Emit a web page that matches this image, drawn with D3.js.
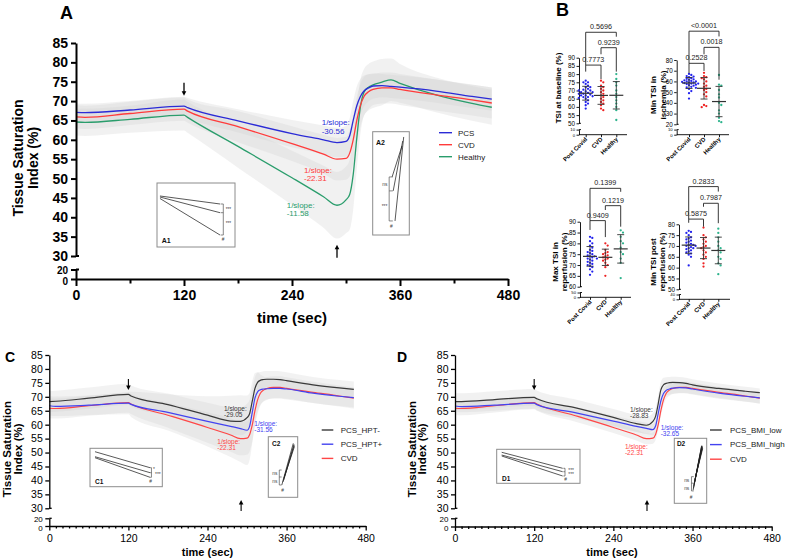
<!DOCTYPE html>
<html><head><meta charset="utf-8">
<script src="https://cdn.jsdelivr.net/npm/d3@7"></script>
<style>body{margin:0;background:#fff}svg{display:block}</style>
</head><body>
<svg id="c" width="788" height="559"></svg>
<script>
// ---------------- DATA ----------------
const timeGrid = [0,10,60,120,124,180,240,275,290,300,304,308,312,316,320,325,330,340,350,360,400,440,462];
// Panel A means
const pcsA     = [67.1,67.0,67.7,68.7,68.3,64.9,61.6,60.0,59.3,59.6,61.0,65.0,68.8,71.2,72.6,73.4,73.9,74.0,73.8,73.6,72.6,71.2,70.5];
const cvd      = [65.9,65.8,66.8,67.9,67.4,63.4,59.0,56.3,55.0,55.2,56.5,60.0,65.0,68.9,71.2,72.4,73.0,73.4,73.4,73.0,71.6,70.3,69.5];
const healthyA = [64.6,64.5,65.3,66.4,65.8,58.3,50.2,45.3,43.1,44.5,45.8,51.0,60.5,68.5,72.3,73.6,74.2,74.9,75.5,74.6,71.6,69.4,68.4];
const sdPcsA     = [2.3,2.3,2.3,2.4,2.5,3.0,3.5,3.7,3.8,4.0,4.5,5.0,5.0,4.5,4.0,3.5,3.3,3.0,3.0,3.0,3.0,3.0,3.0];
const sdCvdA     = [3.0,3.0,3.0,3.0,3.0,4.0,4.5,5.0,5.5,5.5,6.0,6.0,6.0,5.5,5.0,4.5,4.0,4.0,4.0,4.0,4.0,4.0,4.0];
const sdHealthyA = [3.5,3.5,3.5,4.0,4.0,5.5,7.0,8.0,8.6,8.6,9.0,9.0,8.0,7.0,6.0,6.0,6.0,6.0,5.5,5.0,4.5,4.5,4.5];
// Panel C means
const hptNeg = [68.3,68.4,69.5,70.9,70.3,67.2,63.4,61.3,61.2,62.5,64.0,68.5,73.0,75.2,75.9,76.2,76.3,76.3,76.2,75.8,74.3,73.2,72.7];
const hptPos = [66.8,66.6,67.0,67.7,67.3,64.4,61.2,59.4,58.6,58.0,59.5,64.5,69.5,71.8,72.5,72.8,72.9,73.0,73.0,72.8,71.3,70.2,69.7];
const sdHptNeg = [3.8,3.8,3.8,3.8,3.8,4.0,4.5,5.0,5.0,5.0,5.0,4.5,4.0,3.5,3.0,3.0,3.0,3.0,3.0,3.0,2.8,2.8,2.8];
const sdHptPos = [3.5,3.5,3.5,4.0,4.5,6.5,9.0,11.0,12.0,12.5,12.0,11.0,9.0,7.0,5.5,4.5,4.0,3.5,3.5,3.5,3.5,3.5,3.5];
const sdCvdC   = [3.6,3.6,3.6,3.6,3.6,4.5,5.5,6.0,6.0,6.0,6.0,6.0,5.5,5.0,4.5,4.0,4.0,4.0,4.0,4.0,3.8,3.8,3.8];
// Panel D means
const bmiLow  = [68.3,68.3,69.0,69.8,69.3,66.2,62.6,60.4,59.8,61.2,63.0,67.5,72.5,74.3,74.8,75.1,75.2,75.1,74.8,74.3,73.0,72.0,71.5];
const bmiHigh = [66.7,66.5,67.0,67.7,67.2,64.4,61.3,59.4,58.7,58.2,59.5,64.0,68.5,71.2,72.3,72.8,73.1,73.3,73.2,72.8,71.3,70.2,69.6];
const sdBmiLow  = [3.0,3.0,3.0,3.0,3.0,3.0,3.0,3.0,3.0,3.0,3.0,3.0,2.8,2.5,2.2,2.0,2.0,2.0,2.0,2.0,1.8,1.6,1.5];
const sdBmiHigh = [2.0,2.0,2.0,2.0,2.0,2.0,2.0,2.0,2.0,2.0,2.0,2.0,2.0,2.0,2.0,2.0,2.0,2.0,2.0,2.0,2.0,2.0,2.0];
const sdCvdD    = [2.4,2.4,2.4,2.4,2.4,2.2,2.0,2.0,2.0,2.0,2.0,2.0,2.0,2.0,2.0,2.0,2.0,2.0,2.0,2.0,2.0,2.0,2.0];

const yTicksMain = [30,35,40,45,50,55,60,65,70,75,80,85];
const yTicksLow  = [0,20];
const xTicksMain = [0,120,240,360,480];

// Panel B
const groups = ["Post Covid","CVD","Healthy"];
const baselinePost = [76,75,75,74,73,72,72,71,70.5,70,70,69.5,69,69,68.5,68,68,67.5,67,67,66.5,66,66,65.5,65,64,63,62,61,59];
const baselineCvd = [76,75,73,72,71,70,69,68,67,66,65,64,63,62,61,59,58];
const baselineHealthy = [80,77,75,73,70,68,66,64,62,60,58,52];
const ischemiaPost = [67,66,65,64.5,64,63,62.5,62,61.5,61,60.5,60,60,59.5,59,59,58.5,58,58,57.5,57,56.5,56,55,54.5,54,53,51,49,44];
const ischemiaCvd = [68,65,64,63,62,60,58,56,55,53,52,50,48,46,38,37,36];
const ischemiaHealthy = [66,57,56,52,48,45,40,38,33,30,26,23,22];
const maxRepPost = [83,82.5,81,80,79,78,77,76.5,76,75.5,75,74.5,74,74,73.5,73,73,72.5,72,71.5,71,70.5,70,69.5,69,68,67,65.5];
const maxRepCvd = [80,79,77,76,75.5,75,74.5,74,73.5,73,72.5,72,71,70,69,65];
const maxRepHealthy = [86,85,83,81,80,78,76,75,73,71,64];
const minPostPost = [77,76.5,76,75,74,73.5,73,72.5,72,71.5,71,70.5,70.5,70,70,69.5,69,69,68.5,68,67.5,67,66.5,66,65,61];
const minPostCvd = [78.5,75,74,73,72,71,70,69.5,69,68,67,66,65,64,62,60.5];
const minPostHealthy = [78,76,74,72,70,69,68,67,65,64,62,61,57];
const pBaseline = ["0.7773","0.9239","0.5696"];
const pIschemia = ["0.2528","0.0018","<0.0001"];
const pMaxRep = ["0.9409","0.1219","0.1399"];
const pMinPost = ["0.5875","0.7987","0.2833"];

// ---------------- DRAW ----------------
const FONT = "'Liberation Sans', Arial, Helvetica, sans-serif";
const svg = d3.select("#c").style("font-family", FONT);

function styleAxis(sel, sw, fs, fw) {
  sel.attr("font-family", FONT);
  sel.select(".domain").attr("stroke", "#000").attr("stroke-width", sw);
  sel.selectAll(".tick line").attr("stroke", "#000").attr("stroke-width", sw);
  sel.selectAll(".tick text").attr("fill", "#000").attr("font-size", fs).attr("font-weight", fw);
}
// nudge the two labels of a short broken-axis segment (positive = down)
function spreadLow(sel, topShift, zeroShift) {
  sel.selectAll(".tick text").attr("y", d => d === 0 ? zeroShift : topShift);
}

function arrow(g, x, yTip, len, dir, sw) {
  const yTail = yTip - dir * len;
  g.append("line").attr("x1", x).attr("x2", x).attr("y1", yTail).attr("y2", yTip - dir * 3)
    .attr("stroke", "#000").attr("stroke-width", sw);
  g.append("path").attr("d", `M${x - 2.3},${yTip - dir * 4.5}L${x + 2.3},${yTip - dir * 4.5}L${x},${yTip}Z`).attr("fill", "#000");
}

function drawInset(s) {
  const [bx, by, bw, bh] = s.box;
  const ix = d3.scaleLinear([0, 1], [bx, bx + bw]), iy = d3.scaleLinear([0, 1], [by, by + bh]);
  const g = svg.append("g");
  g.append("rect").attr("x", bx).attr("y", by).attr("width", bw).attr("height", bh)
    .attr("fill", "#fff").attr("stroke", "#8c8c8c").attr("stroke-width", 1);
  s.lines.forEach(l => g.append("line").attr("x1", ix(l[0])).attr("y1", iy(l[1])).attr("x2", ix(l[2])).attr("y2", iy(l[3]))
    .attr("stroke", "#222").attr("stroke-width", 0.75));
  const bxp = ix(s.bracket.x);
  g.append("line").attr("x1", bxp).attr("x2", bxp).attr("y1", iy(d3.min(s.bracket.ys))).attr("y2", iy(d3.max(s.bracket.ys)))
    .attr("stroke", "#555").attr("stroke-width", 0.7);
  s.bracket.ys.forEach(y => g.append("line").attr("x1", bxp).attr("x2", ix(s.bracket.x + s.bracket.tick)).attr("y1", iy(y)).attr("y2", iy(y))
    .attr("stroke", "#555").attr("stroke-width", 0.7));
  s.labels.forEach(l => g.append("text").attr("x", ix(l[1])).attr("y", iy(l[2])).attr("text-anchor", l[3] || "start")
    .attr("font-size", 4.8).attr("fill", "#444").text(l[0]));
  g.append("text").attr("x", ix(s.name[1])).attr("y", iy(s.name[2])).attr("font-size", s.nameSize)
    .attr("font-weight", "bold").attr("fill", "#111").text(s.name[0]);
}

function timePanel(p) {
  const x = d3.scaleLinear([0, 480], p.xr);
  const yU = d3.scaleLinear([30, 85], p.yur);
  const yL = d3.scaleLinear([0, 20], p.ylr);
  const g = svg.append("g");
  const bands = g.append("g");
  p.series.forEach(s => {
    bands.append("path").datum(s.v).attr("fill", "#cfcfcf").attr("fill-opacity", p.bandOp)
      .attr("d", d3.area().x((d, i) => x(timeGrid[i])).y0((d, i) => yU(d - s.sd[i])).y1((d, i) => yU(d + s.sd[i])).curve(d3.curveMonotoneX));
  });
  const lines = g.append("g");
  p.series.slice().reverse().forEach(s => {
    lines.append("path").datum(s.v).attr("fill", "none").attr("stroke", s.color).attr("stroke-width", p.lw)
      .attr("d", d3.line().x((d, i) => x(timeGrid[i])).y(d => yU(d)).curve(d3.curveMonotoneX));
  });
  const x0 = p.xr[0];
  const ya = g.append("g").attr("transform", `translate(${x0},0)`)
    .call(d3.axisLeft(yU).tickValues(yTicksMain).tickSize(p.tl).tickPadding(p.tp).tickSizeOuter(0));
  styleAxis(ya, p.sw, p.yfs, p.fw);
  const yb = g.append("g").attr("transform", `translate(${x0},0)`)
    .call(d3.axisLeft(yL).tickValues(yTicksLow).tickSize(p.tl).tickPadding(p.tp).tickSizeOuter(0));
  styleAxis(yb, p.sw, p.lowFs, p.fw);
  spreadLow(yb, p.lowTop, p.lowZero);
  [yU(30), yL(20)].forEach(yy => g.append("line").attr("x1", x0).attr("x2", x0 + p.tl * 0.6).attr("y1", yy).attr("y2", yy)
    .attr("stroke", "#000").attr("stroke-width", p.sw));
  const xa = g.append("g").attr("transform", `translate(0,${yL(0)})`)
    .call(d3.axisBottom(x).tickValues(xTicksMain).tickSize(p.xtl).tickPadding(p.xtp).tickSizeOuter(0));
  styleAxis(xa, p.sw, p.xfs, p.fw);
  const xm = g.append("g").attr("transform", `translate(0,${yL(0)})`)
    .call(d3.axisBottom(x).tickValues(p.minor).tickSize(p.xmtl).tickFormat("").tickSizeOuter(0));
  styleAxis(xm, p.sw, p.xfs, p.fw);
  xm.select(".domain").remove();
  const yt = g.append("g").attr("font-weight", "bold").attr("font-size", p.ytfs).attr("text-anchor", "middle");
  p.yTitle.forEach((t, i) => yt.append("text").attr("transform", `translate(${p.ytX[i]},${p.ytY}) rotate(-90)`).text(t));
  g.append("text").attr("x", p.xtX).attr("y", p.xtY).attr("text-anchor", "middle").attr("font-weight", "bold")
    .attr("font-size", p.xtfs).text("time (sec)");
  g.append("text").attr("x", p.letter[1]).attr("y", p.letter[2]).attr("font-weight", "bold").attr("font-size", p.letter[3]).text(p.letter[0]);
  p.slopes.forEach(s => {
    const t = g.append("text").attr("x", x(s.t)).attr("y", yU(s.v)).attr("fill", s.color).attr("font-size", p.sfs);
    t.append("tspan").attr("x", x(s.t)).text("1/slope:");
    t.append("tspan").attr("x", x(s.t)).attr("dy", p.sdy).text(s.val);
  });
  arrow(g, x(p.arrDown[0]), yU(p.arrDown[1]), p.arrLen, 1, p.arrW);
  arrow(g, x(p.arrUp[0]), yU(p.arrUp[1]), p.arrLen, -1, p.arrW);
  p.series.forEach((s, i) => {
    const ly = p.leg.y + i * p.leg.dy;
    g.append("line").attr("x1", p.leg.x).attr("x2", p.leg.x + p.leg.len).attr("y1", ly).attr("y2", ly)
      .attr("stroke", s.color).attr("stroke-width", 1.4);
    g.append("text").attr("x", p.leg.tx).attr("y", ly).attr("dy", "0.35em").attr("font-size", p.leg.fs).attr("fill", "#222").text(s.name);
  });
  p.insets.forEach(drawInset);
}

const cBlueA = "#2b2bd6", cRedA = "#ff3b3b", cGreenA = "#2a9d6c";
const cGrey = "#3a3a3a", cBlue = "#4343f0", cRed = "#ff4646";

// Panel A
timePanel({
  xr: [76, 508], yur: [256, 43], ylr: [279, 269.5],
  series: [
    {name: "PCS", v: pcsA, sd: sdPcsA, color: cBlueA},
    {name: "CVD", v: cvd, sd: sdCvdA, color: cRedA},
    {name: "Healthy", v: healthyA, sd: sdHealthyA, color: cGreenA}],
  bandOp: 0.3, lw: 1.3, sw: 2, tl: 5, tp: 3, yfs: 14, xfs: 14, fw: "bold",
  lowFs: 10, lowTop: 0.3, lowZero: 1.9,
  xtl: 7, xtp: 4, xmtl: 4.5, minor: [60, 180, 300, 420],
  yTitle: ["Tissue Saturation", "Index (%)"], ytX: [22.5, 37.5], ytY: 158, ytfs: 14,
  xtX: 292, xtY: 323, xtfs: 15, letter: ["A", 60, 18.5, 18],
  slopes: [
    {t: 273, v: 63.7, val: "-30.56", color: cBlueA},
    {t: 253.3, v: 51.5, val: "-22.31", color: cRedA},
    {t: 234.1, v: 42.5, val: "-11.58", color: cGreenA}],
  sfs: 8, sdy: 8.5,
  arrDown: [120, 71.4], arrUp: [290, 32.9], arrLen: 13, arrW: 1.3,
  leg: {x: 439, len: 13, tx: 458, y: 132.7, dy: 12, fs: 8},
  insets: [
    {box: [157, 183, 78, 64], name: ["A1", 0.06, 0.94], nameSize: 7,
     lines: [[0.038, 0.203, 0.808, 0.328], [0.038, 0.219, 0.808, 0.464], [0.038, 0.242, 0.808, 0.8125]],
     bracket: {x: 0.85, tick: -0.035, ys: [0.328, 0.464, 0.8125]},
     labels: [["***", 0.88, 0.43], ["***", 0.88, 0.66], ["#", 0.83, 0.9]]},
    {box: [372.7, 131.7, 36.6, 103.3], name: ["A2", 0.09, 0.13], nameSize: 7,
     lines: [[0.53, 0.438, 0.8, 0.138], [0.56, 0.573, 0.82, 0.09], [0.61, 0.864, 0.847, 0.051]],
     bracket: {x: 0.45, tick: 0.1, ys: [0.438, 0.573, 0.864]},
     labels: [["ns", 0.40, 0.53, "end"], ["***", 0.40, 0.74, "end"], ["#", 0.47, 0.93]]}]
});

// Panel C
timePanel({
  xr: [49.3, 365.7], yur: [508.3, 355], ylr: [526, 518.3],
  series: [
    {name: "PCS_HPT-", v: hptNeg, sd: sdHptNeg, color: cGrey},
    {name: "PCS_HPT+", v: hptPos, sd: sdHptPos, color: cBlue},
    {name: "CVD", v: cvd, sd: sdCvdC, color: cRed}],
  bandOp: 0.27, lw: 1.2, sw: 1.3, tl: 4, tp: 2.5, yfs: 10.5, xfs: 10.5, fw: "normal",
  lowFs: 8, lowTop: 0.5, lowZero: 1.7,
  xtl: 4.5, xtp: 4, xmtl: 2.5, minor: d3.range(10, 480, 10).filter(v => v % 120 !== 0),
  yTitle: ["Tissue Saturation", "Index (%)"], ytX: [11, 21.5], ytY: 449, ytfs: 11.5,
  xtX: 207.5, xtY: 555.5, xtfs: 11, letter: ["C", 5, 362, 14],
  slopes: [
    {t: 265, v: 65.0, val: "-29.05", color: cGrey},
    {t: 311, v: 59.5, val: "-31.56", color: cBlue},
    {t: 254.9, v: 53.0, val: "-22.31", color: cRed}],
  sfs: 6.5, sdy: 6.3,
  arrDown: [120, 72.4], arrUp: [291, 33.0], arrLen: 11, arrW: 1.1,
  leg: {x: 321.7, len: 11.6, tx: 340.7, y: 430, dy: 14.2, fs: 8},
  insets: [
    {box: [90, 448.3, 72.3, 38.4], name: ["C1", 0.07, 0.93], nameSize: 6.5,
     lines: [[0.069, 0.089, 0.83, 0.505], [0.069, 0.219, 0.83, 0.635], [0.069, 0.245, 0.83, 0.755]],
     bracket: {x: 0.85, tick: -0.02, ys: [0.505, 0.635, 0.755]},
     labels: [["*", 0.87, 0.6], ["***", 0.9, 0.73], ["#", 0.82, 0.9]]},
    {box: [268.3, 436.7, 29.4, 60.6], name: ["C2", 0.13, 0.15], nameSize: 6.5,
     lines: [[0.46, 0.797, 0.85, 0.109], [0.5, 0.746, 0.874, 0.125], [0.534, 0.68, 0.891, 0.16], [0.52, 0.72, 0.88, 0.14]],
     bracket: {x: 0.374, tick: 0.08, ys: [0.55, 0.665, 0.797]},
     labels: [["ns", 0.31, 0.63, "end"], ["ns", 0.31, 0.77, "end"], ["#", 0.44, 0.92]]}]
});

// Panel D
timePanel({
  xr: [455, 771.7], yur: [508.3, 355], ylr: [526.5, 518.3],
  series: [
    {name: "PCS_BMI_low", v: bmiLow, sd: sdBmiLow, color: cGrey},
    {name: "PCS_BMI_high", v: bmiHigh, sd: sdBmiHigh, color: cBlue},
    {name: "CVD", v: cvd, sd: sdCvdD, color: cRed}],
  bandOp: 0.3, lw: 1.2, sw: 1.3, tl: 4, tp: 2.5, yfs: 10.5, xfs: 10.5, fw: "normal",
  lowFs: 8, lowTop: 0.5, lowZero: 1.3,
  xtl: 4.5, xtp: 4, xmtl: 2.5, minor: d3.range(10, 480, 10).filter(v => v % 120 !== 0),
  yTitle: ["Tissue Saturation", "Index (%)"], ytX: [415.5, 426], ytY: 449, ytfs: 11.5,
  xtX: 612, xtY: 555.5, xtfs: 11, letter: ["D", 397, 362, 14],
  slopes: [
    {t: 265.2, v: 64.7, val: "-28.83", color: cGrey},
    {t: 311.7, v: 58.1, val: "-32.65", color: cBlue},
    {t: 257.6, v: 51.3, val: "-22.31", color: cRed}],
  sfs: 6.5, sdy: 6.5,
  arrDown: [120, 72.4], arrUp: [291, 33.0], arrLen: 11, arrW: 1.1,
  leg: {x: 710, len: 11.7, tx: 730, y: 430, dy: 14.6, fs: 8},
  insets: [
    {box: [496.7, 449.3, 83.3, 34], name: ["D1", 0.064, 0.93], nameSize: 6.5,
     lines: [[0.06, 0.088, 0.792, 0.559], [0.06, 0.168, 0.792, 0.659], [0.06, 0.197, 0.792, 0.785]],
     bracket: {x: 0.82, tick: -0.02, ys: [0.559, 0.659, 0.785]},
     labels: [["***", 0.86, 0.66], ["***", 0.86, 0.78], ["#", 0.81, 0.93]]},
    {box: [674.3, 438.3, 32.4, 65], name: ["D2", 0.08, 0.12], nameSize: 6.5,
     lines: [[0.58, 0.80, 0.84, 0.12], [0.59, 0.77, 0.845, 0.13], [0.60, 0.74, 0.85, 0.11], [0.61, 0.71, 0.855, 0.14],
             [0.62, 0.69, 0.86, 0.12], [0.63, 0.66, 0.865, 0.15], [0.64, 0.63, 0.87, 0.13], [0.65, 0.60, 0.875, 0.16]],
     bracket: {x: 0.53, tick: 0.07, ys: [0.59, 0.69, 0.81]},
     labels: [["ns", 0.46, 0.67, "end"], ["ns", 0.46, 0.79, "end"], ["#", 0.48, 0.93]]}]
});

// Panel B
svg.append("text").attr("x", 556).attr("y", 15.5).attr("font-weight", "bold").attr("font-size", 18).text("B");
const bColors = ["#2323ee", "#ee2222", "#2db38c"];

function swarm(vals, y, cx, r, step) {
  const pts = vals.map(v => ({v, y: y(v)})).sort((a, b) => a.y - b.y);
  const placed = [];
  pts.forEach(p => {
    for (let k = 0; k < 60; k++) {
      const off = (k % 2 === 1 ? 1 : -1) * Math.ceil(k / 2) * step;
      const px = cx + off;
      if (placed.every(q => (q.x - px) ** 2 + (q.y - p.y) ** 2 >= (2 * r + 0.15) ** 2)) { p.x = px; placed.push(p); break; }
    }
  });
  return placed;
}

function scatterPanel(p) {
  const g = svg.append("g");
  const yU = d3.scaleLinear(p.up, p.upR);
  const yL = d3.scaleLinear(p.low, p.lowR);
  const xb = d3.scalePoint(groups, [p.cats[0], p.cats[2]]);
  const ya = g.append("g").attr("transform", `translate(${p.ax},0)`)
    .call(d3.axisLeft(yU).tickValues(p.ticks).tickSize(2.5).tickPadding(1.5).tickSizeOuter(0));
  styleAxis(ya, 0.9, 6.3, "normal");
  const yb = g.append("g").attr("transform", `translate(${p.ax},0)`)
    .call(d3.axisLeft(yL).tickValues(p.low).tickSize(2.5).tickPadding(1.5).tickSizeOuter(0));
  styleAxis(yb, 0.9, 4.2, "normal");
  spreadLow(yb, -0.4, 0.3);
  [yU(p.up[0]), yL(p.low[1])].forEach(yy => g.append("line").attr("x1", p.ax).attr("x2", p.ax + 2)
    .attr("y1", yy).attr("y2", yy).attr("stroke", "#000").attr("stroke-width", 0.9));
  const xAx = d3.axisBottom(xb).tickSize(2.5).tickFormat("").tickSizeOuter(0);
  const xa = g.append("g").attr("transform", `translate(0,${p.axisY})`).call(xAx);
  styleAxis(xa, 0.9, 6, "bold");
  xa.select(".domain").attr("d", `M${p.ax},0H${p.xEnd}`);
  groups.forEach(c => g.append("text").attr("transform", `translate(${xb(c) + 2},${p.axisY + 5}) rotate(-45)`)
    .attr("text-anchor", "end").attr("font-size", 6).attr("font-weight", "bold").text(c));
  p.ylab.forEach((t, i) => g.append("text").attr("transform", `translate(${p.ylabX[i]},${p.ylabY}) rotate(-90)`)
    .attr("text-anchor", "middle").attr("font-size", 8).attr("font-weight", "bold").text(t));
  p.data.forEach((vals, gi) => {
    const cx = xb(groups[gi]);
    swarm(vals, yU, cx, 1.15, 2.3).forEach(pt => g.append("circle").attr("cx", pt.x).attr("cy", pt.y).attr("r", 1.15).attr("fill", bColors[gi]));
    const m = d3.mean(vals), sd = d3.deviation(vals);
    const eb = g.append("g").attr("stroke", "#333").attr("stroke-width", 0.9);
    eb.append("line").attr("x1", cx).attr("x2", cx).attr("y1", yU(m - sd)).attr("y2", yU(m + sd));
    [m - sd, m + sd].forEach(v => eb.append("line").attr("x1", cx - 3.5).attr("x2", cx + 3.5).attr("y1", yU(v)).attr("y2", yU(v)));
    eb.append("line").attr("x1", cx - 7).attr("x2", cx + 7).attr("y1", yU(m)).attr("y2", yU(m)).attr("stroke-width", 1.2);
  });
  p.brackets.forEach((b, i) => {
    const xa1 = xb(groups[b.a]), xa2 = xb(groups[b.b]);
    g.append("path").attr("d", `M${xa1},${yU(b.l)}V${yU(b.top)}H${xa2}V${yU(b.r)}`)
      .attr("fill", "none").attr("stroke", "#222").attr("stroke-width", 0.9);
    g.append("text").attr("x", (xa1 + xa2) / 2).attr("y", yU(b.top) - 3).attr("text-anchor", "middle")
      .attr("font-size", 7.2).attr("fill", "#222").text(p.pvals[i]);
  });
}

scatterPanel({ax: 579, axisY: 134.7, up: [50, 90], upR: [123.3, 57.7], low: [0, 10], lowR: [134.7, 129.6],
  ticks: d3.range(50, 91, 5), cats: [585.7, 601, 616.3], xEnd: 627,
  data: [baselinePost, baselineCvd, baselineHealthy], pvals: pBaseline,
  ylab: ["TSI at baseline (%)"], ylabX: [561], ylabY: 88,
  brackets: [{a: 0, b: 1, top: 85.5, l: 81.5, r: 77}, {a: 1, b: 2, top: 96.1, l: 92.1, r: 81.5}, {a: 0, b: 2, top: 105.5, l: 85.5, r: 102.8}]});
scatterPanel({ax: 676.7, axisY: 134.7, up: [20, 80], upR: [124.3, 60], low: [0, 10], lowR: [134.7, 129.6],
  ticks: d3.range(20, 81, 10), cats: [689, 704, 719], xEnd: 729,
  data: [ischemiaPost, ischemiaCvd, ischemiaHealthy], pvals: pIschemia,
  ylab: ["Min TSI in", "ischemia (%)"], ylabX: [655.5, 665.5], ylabY: 95,
  brackets: [{a: 0, b: 1, top: 76.9, l: 67.6, r: 69.8}, {a: 1, b: 2, top: 91.8, l: 85.3, r: 61.6}, {a: 0, b: 2, top: 106.9, l: 76.9, r: 102}]});
scatterPanel({ax: 580, axisY: 297.3, up: [60, 90], upR: [286.7, 221.7], low: [0, 50], lowR: [297.3, 292.5],
  ticks: d3.range(60, 91, 5), cats: [590, 605.3, 620.7], xEnd: 631,
  data: [maxRepPost, maxRepCvd, maxRepHealthy], pvals: pMaxRep,
  ylab: ["Max TSI in", "reperfusion (%)"], ylabX: [558, 566.5], ylabY: 262,
  brackets: [{a: 0, b: 1, top: 90.5, l: 86.2, r: 82.9}, {a: 1, b: 2, top: 97.4, l: 95.4, r: 87.7}, {a: 0, b: 2, top: 105.4, l: 90.5, r: 103.8}]});
scatterPanel({ax: 679, axisY: 299.3, up: [50, 80], upR: [289.3, 224.3], low: [0, 40], lowR: [299.3, 294.5],
  ticks: d3.range(50, 81, 5), cats: [688.7, 703.5, 718.3], xEnd: 730,
  data: [minPostPost, minPostCvd, minPostHealthy], pvals: pMinPost,
  ylab: ["Min TSI post", "reperfusion (%)"], ylabX: [656.2, 664.8], ylabY: 262,
  brackets: [{a: 0, b: 1, top: 82.4, l: 80.7, r: 78.9}, {a: 1, b: 2, top: 89.7, l: 88.1, r: 80.5}, {a: 0, b: 2, top: 97.4, l: 82.4, r: 95.1}]});
</script>
</body></html>
